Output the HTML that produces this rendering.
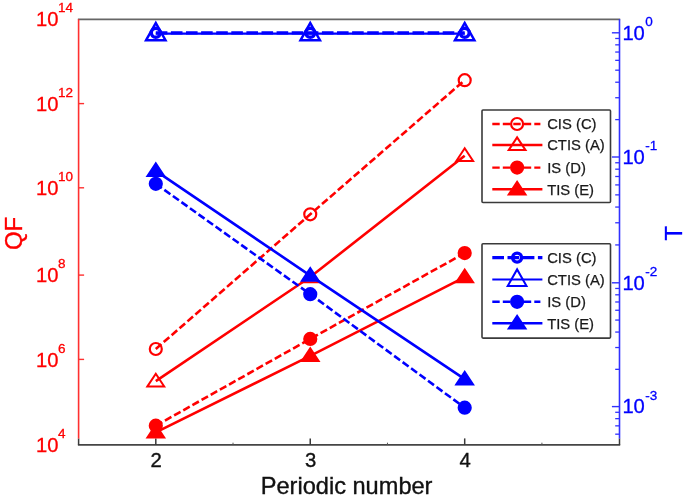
<!DOCTYPE html>
<html><head><meta charset="utf-8"><title>QF and T versus periodic number</title>
<style>html,body{margin:0;padding:0;background:#fff;}svg{display:block;filter:blur(0.5px);}</style></head>
<body>
<svg width="685" height="497" viewBox="0 0 685 497" font-family="'Liberation Sans', Arial, sans-serif">
<rect width="685" height="497" fill="#fff"/>
<line x1="77.89999999999999" y1="19.3" x2="620.2" y2="19.3" stroke="#666" stroke-width="1.8"/>
<line x1="77.89999999999999" y1="444.9" x2="620.2" y2="444.9" stroke="#454545" stroke-width="1.9"/>
<line x1="155.80" y1="444.9" x2="155.80" y2="438.4" stroke="#3a3a3a" stroke-width="1.5"/>
<text x="156.20" y="466.7" font-size="20.3" text-anchor="middle" fill="#111" stroke="#111" stroke-width="0.35">2</text>
<line x1="310.25" y1="444.9" x2="310.25" y2="438.4" stroke="#3a3a3a" stroke-width="1.5"/>
<text x="310.65" y="466.7" font-size="20.3" text-anchor="middle" fill="#111" stroke="#111" stroke-width="0.35">3</text>
<line x1="464.70" y1="444.9" x2="464.70" y2="438.4" stroke="#3a3a3a" stroke-width="1.5"/>
<text x="465.10" y="466.7" font-size="20.3" text-anchor="middle" fill="#111" stroke="#111" stroke-width="0.35">4</text>
<line x1="233.03" y1="444.9" x2="233.03" y2="442.7" stroke="#555" stroke-width="1"/>
<line x1="387.48" y1="444.9" x2="387.48" y2="442.7" stroke="#555" stroke-width="1"/>
<line x1="541.92" y1="444.9" x2="541.92" y2="442.7" stroke="#555" stroke-width="1"/>
<line x1="78.6" y1="444.9" x2="78.6" y2="438.4" stroke="#3a3a3a" stroke-width="1.5"/>
<line x1="619.5" y1="444.9" x2="619.5" y2="438.4" stroke="#3a3a3a" stroke-width="1.5"/>
<text x="346.6" y="494.2" font-size="23.6" text-anchor="middle" fill="#111" stroke="#111" stroke-width="0.35">Periodic number</text>
<line x1="78.6" y1="19.3" x2="78.6" y2="438.4" stroke="#ff3030" stroke-width="1.6"/>
<text x="36.0" y="26.30" font-size="20.2" fill="#ff0000" stroke="#ff0000" stroke-width="0.3">10<tspan font-size="13.5" dx="-0.4" dy="-13.9">14</tspan></text>
<line x1="78.6" y1="103.60" x2="84.1" y2="103.60" stroke="#ff3030" stroke-width="1.4"/>
<text x="36.0" y="110.60" font-size="20.2" fill="#ff0000" stroke="#ff0000" stroke-width="0.3">10<tspan font-size="13.5" dx="-0.4" dy="-13.9">12</tspan></text>
<line x1="78.6" y1="187.80" x2="84.1" y2="187.80" stroke="#ff3030" stroke-width="1.4"/>
<text x="36.0" y="195.00" font-size="20.2" fill="#ff0000" stroke="#ff0000" stroke-width="0.3">10<tspan font-size="13.5" dx="-0.4" dy="-13.9">10</tspan></text>
<line x1="78.6" y1="275.10" x2="84.1" y2="275.10" stroke="#ff3030" stroke-width="1.4"/>
<text x="36.0" y="282.30" font-size="20.2" fill="#ff0000" stroke="#ff0000" stroke-width="0.3">10<tspan font-size="13.5" dx="-0.4" dy="-13.9">8</tspan></text>
<line x1="78.6" y1="359.40" x2="84.1" y2="359.40" stroke="#ff3030" stroke-width="1.4"/>
<text x="36.0" y="366.50" font-size="20.2" fill="#ff0000" stroke="#ff0000" stroke-width="0.3">10<tspan font-size="13.5" dx="-0.4" dy="-13.9">6</tspan></text>
<text x="36.0" y="451.90" font-size="20.2" fill="#ff0000" stroke="#ff0000" stroke-width="0.3">10<tspan font-size="13.5" dx="-0.4" dy="-13.9">4</tspan></text>
<text transform="translate(21.8,233.4) rotate(-90)" font-size="24" text-anchor="middle" fill="#ff0000" stroke="#ff0000" stroke-width="0.35">QF</text>
<line x1="619.5" y1="19.3" x2="619.5" y2="438.4" stroke="#3030ff" stroke-width="1.6"/>
<line x1="619.5" y1="32.80" x2="611.9" y2="32.80" stroke="#3030ff" stroke-width="1.4"/>
<text x="622.4" y="39.60" font-size="20.2" fill="#0000ff" stroke="#0000ff" stroke-width="0.3">10<tspan font-size="13.5" dx="0.3" dy="-13.4">0</tspan></text>
<line x1="619.5" y1="119.61" x2="615.2" y2="119.61" stroke="#3030ff" stroke-width="1.3"/>
<line x1="619.5" y1="97.74" x2="615.2" y2="97.74" stroke="#3030ff" stroke-width="1.3"/>
<line x1="619.5" y1="82.22" x2="615.2" y2="82.22" stroke="#3030ff" stroke-width="1.3"/>
<line x1="619.5" y1="70.19" x2="615.2" y2="70.19" stroke="#3030ff" stroke-width="1.3"/>
<line x1="619.5" y1="60.35" x2="615.2" y2="60.35" stroke="#3030ff" stroke-width="1.3"/>
<line x1="619.5" y1="52.04" x2="615.2" y2="52.04" stroke="#3030ff" stroke-width="1.3"/>
<line x1="619.5" y1="44.84" x2="615.2" y2="44.84" stroke="#3030ff" stroke-width="1.3"/>
<line x1="619.5" y1="38.48" x2="615.2" y2="38.48" stroke="#3030ff" stroke-width="1.3"/>
<line x1="619.5" y1="157.00" x2="611.9" y2="157.00" stroke="#3030ff" stroke-width="1.4"/>
<text x="622.4" y="163.80" font-size="20.2" fill="#0000ff" stroke="#0000ff" stroke-width="0.3">10<tspan font-size="13.5" dx="0.3" dy="-13.4">-1</tspan></text>
<line x1="619.5" y1="244.93" x2="615.2" y2="244.93" stroke="#3030ff" stroke-width="1.3"/>
<line x1="619.5" y1="222.78" x2="615.2" y2="222.78" stroke="#3030ff" stroke-width="1.3"/>
<line x1="619.5" y1="207.06" x2="615.2" y2="207.06" stroke="#3030ff" stroke-width="1.3"/>
<line x1="619.5" y1="194.87" x2="615.2" y2="194.87" stroke="#3030ff" stroke-width="1.3"/>
<line x1="619.5" y1="184.91" x2="615.2" y2="184.91" stroke="#3030ff" stroke-width="1.3"/>
<line x1="619.5" y1="176.49" x2="615.2" y2="176.49" stroke="#3030ff" stroke-width="1.3"/>
<line x1="619.5" y1="169.19" x2="615.2" y2="169.19" stroke="#3030ff" stroke-width="1.3"/>
<line x1="619.5" y1="162.76" x2="615.2" y2="162.76" stroke="#3030ff" stroke-width="1.3"/>
<line x1="619.5" y1="282.80" x2="611.9" y2="282.80" stroke="#3030ff" stroke-width="1.4"/>
<text x="622.4" y="289.60" font-size="20.2" fill="#0000ff" stroke="#0000ff" stroke-width="0.3">10<tspan font-size="13.5" dx="0.3" dy="-13.4">-2</tspan></text>
<line x1="619.5" y1="369.33" x2="615.2" y2="369.33" stroke="#3030ff" stroke-width="1.3"/>
<line x1="619.5" y1="347.53" x2="615.2" y2="347.53" stroke="#3030ff" stroke-width="1.3"/>
<line x1="619.5" y1="332.06" x2="615.2" y2="332.06" stroke="#3030ff" stroke-width="1.3"/>
<line x1="619.5" y1="320.07" x2="615.2" y2="320.07" stroke="#3030ff" stroke-width="1.3"/>
<line x1="619.5" y1="310.26" x2="615.2" y2="310.26" stroke="#3030ff" stroke-width="1.3"/>
<line x1="619.5" y1="301.98" x2="615.2" y2="301.98" stroke="#3030ff" stroke-width="1.3"/>
<line x1="619.5" y1="294.80" x2="615.2" y2="294.80" stroke="#3030ff" stroke-width="1.3"/>
<line x1="619.5" y1="288.46" x2="615.2" y2="288.46" stroke="#3030ff" stroke-width="1.3"/>
<line x1="619.5" y1="406.60" x2="611.9" y2="406.60" stroke="#3030ff" stroke-width="1.4"/>
<text x="622.4" y="413.40" font-size="20.2" fill="#0000ff" stroke="#0000ff" stroke-width="0.3">10<tspan font-size="13.5" dx="0.3" dy="-13.4">-3</tspan></text>
<line x1="619.5" y1="434.18" x2="615.2" y2="434.18" stroke="#3030ff" stroke-width="1.3"/>
<line x1="619.5" y1="425.85" x2="615.2" y2="425.85" stroke="#3030ff" stroke-width="1.3"/>
<line x1="619.5" y1="418.65" x2="615.2" y2="418.65" stroke="#3030ff" stroke-width="1.3"/>
<line x1="619.5" y1="412.29" x2="615.2" y2="412.29" stroke="#3030ff" stroke-width="1.3"/>
<text transform="translate(681.6,233.2) rotate(-90)" font-size="24" text-anchor="middle" fill="#0000ff" stroke="#0000ff" stroke-width="0.35">T</text>
<polyline points="155.80,349.00 310.25,214.30 464.70,80.20" fill="none" stroke="#ff0000" stroke-width="2.6" stroke-dasharray="7.4 3.1"/>
<circle cx="155.80" cy="349.00" r="6.0" fill="none" stroke="#ff0000" stroke-width="2.2"/>
<circle cx="310.25" cy="214.30" r="6.0" fill="none" stroke="#ff0000" stroke-width="2.2"/>
<circle cx="464.70" cy="80.20" r="6.0" fill="none" stroke="#ff0000" stroke-width="2.2"/>
<polyline points="155.80,381.20 310.25,277.00 464.70,155.80" fill="none" stroke="#ff0000" stroke-width="2.6"/>
<polygon points="147.40,386.40 155.80,373.70 164.20,386.40" fill="none" stroke="#ff0000" stroke-width="2" stroke-linejoin="miter"/>
<polygon points="301.85,282.20 310.25,269.50 318.65,282.20" fill="none" stroke="#ff0000" stroke-width="2" stroke-linejoin="miter"/>
<polygon points="456.30,161.00 464.70,148.30 473.10,161.00" fill="none" stroke="#ff0000" stroke-width="2" stroke-linejoin="miter"/>
<polyline points="155.80,425.70 310.25,338.90 464.70,253.10" fill="none" stroke="#ff0000" stroke-width="2.6" stroke-dasharray="7.4 3.1"/>
<circle cx="155.80" cy="425.70" r="6.0" fill="#ff0000" stroke="#ff0000" stroke-width="2.2"/>
<circle cx="310.25" cy="338.90" r="6.0" fill="#ff0000" stroke="#ff0000" stroke-width="2.2"/>
<circle cx="464.70" cy="253.10" r="6.0" fill="#ff0000" stroke="#ff0000" stroke-width="2.2"/>
<polyline points="155.80,432.40 310.25,355.80 464.70,277.10" fill="none" stroke="#ff0000" stroke-width="2.6"/>
<polygon points="147.40,437.60 155.80,424.90 164.20,437.60" fill="#ff0000" stroke="#ff0000" stroke-width="2" stroke-linejoin="miter"/>
<polygon points="301.85,361.00 310.25,348.30 318.65,361.00" fill="#ff0000" stroke="#ff0000" stroke-width="2" stroke-linejoin="miter"/>
<polygon points="456.30,282.30 464.70,269.60 473.10,282.30" fill="#ff0000" stroke="#ff0000" stroke-width="2" stroke-linejoin="miter"/>
<rect x="482" y="110.0" width="128.5" height="92.5" fill="#fff" stroke="#3a3a3a" stroke-width="1.6" rx="1"/>
<line x1="492.3" y1="124.0" x2="540.4" y2="124.0" stroke="#ff0000" stroke-width="2.4" stroke-dasharray="7.4 3.1"/>
<circle cx="517.1" cy="124.0" r="6" fill="none" stroke="#ff0000" stroke-width="2.2"/>
<text x="547.2" y="129.20" font-size="14.8" fill="#1a1a1a" stroke="#1a1a1a" stroke-width="0.25">CIS (C)</text>
<line x1="492.3" y1="144.9" x2="542.4" y2="144.9" stroke="#ff0000" stroke-width="2.5"/>
<polygon points="508.70,150.10 517.10,137.40 525.50,150.10" fill="none" stroke="#ff0000" stroke-width="2" stroke-linejoin="miter"/>
<text x="547.2" y="150.10" font-size="14.8" fill="#1a1a1a" stroke="#1a1a1a" stroke-width="0.25">CTIS (A)</text>
<line x1="492.3" y1="167.6" x2="540.4" y2="167.6" stroke="#ff0000" stroke-width="2.4" stroke-dasharray="7.4 3.1"/>
<circle cx="517.1" cy="167.6" r="6" fill="#ff0000" stroke="#ff0000" stroke-width="2.2"/>
<text x="547.2" y="172.80" font-size="14.8" fill="#1a1a1a" stroke="#1a1a1a" stroke-width="0.25">IS (D)</text>
<line x1="492.3" y1="189.3" x2="542.4" y2="189.3" stroke="#ff0000" stroke-width="2.5"/>
<polygon points="508.70,194.50 517.10,181.80 525.50,194.50" fill="#ff0000" stroke="#ff0000" stroke-width="2" stroke-linejoin="miter"/>
<text x="547.2" y="194.50" font-size="14.8" fill="#1a1a1a" stroke="#1a1a1a" stroke-width="0.25">TIS (E)</text>
<polyline points="155.80,33.7 310.25,33.7 464.70,33.7" fill="none" stroke="#0000ff" stroke-width="2.2"/>
<polyline points="155.80,32.8 310.25,32.8 464.70,32.8" fill="none" stroke="#0000ff" stroke-width="3.2" stroke-dasharray="11.6 3.5"/>
<circle cx="155.80" cy="32.8" r="4.5" fill="none" stroke="#0000ff" stroke-width="3.4"/>
<polygon points="146.12,40.20 155.80,22.99 165.48,40.20" fill="none" stroke="#0000ff" stroke-width="2.5" stroke-linejoin="miter"/>
<circle cx="310.25" cy="32.8" r="4.5" fill="none" stroke="#0000ff" stroke-width="3.4"/>
<polygon points="300.57,40.20 310.25,22.99 319.93,40.20" fill="none" stroke="#0000ff" stroke-width="2.5" stroke-linejoin="miter"/>
<circle cx="464.70" cy="32.8" r="4.5" fill="none" stroke="#0000ff" stroke-width="3.4"/>
<polygon points="455.02,40.20 464.70,22.99 474.38,40.20" fill="none" stroke="#0000ff" stroke-width="2.5" stroke-linejoin="miter"/>
<polyline points="155.80,183.80 310.25,294.20 464.70,407.70" fill="none" stroke="#0000ff" stroke-width="2.6" stroke-dasharray="7.4 3.1"/>
<circle cx="155.80" cy="183.80" r="6.0" fill="#0000ff" stroke="#0000ff" stroke-width="2.2"/>
<circle cx="310.25" cy="294.20" r="6.0" fill="#0000ff" stroke="#0000ff" stroke-width="2.2"/>
<circle cx="464.70" cy="407.70" r="6.0" fill="#0000ff" stroke="#0000ff" stroke-width="2.2"/>
<polyline points="155.80,170.80 310.25,275.60 464.70,379.20" fill="none" stroke="#0000ff" stroke-width="2.6"/>
<polygon points="147.40,176.00 155.80,163.30 164.20,176.00" fill="#0000ff" stroke="#0000ff" stroke-width="2" stroke-linejoin="miter"/>
<polygon points="301.85,280.80 310.25,268.10 318.65,280.80" fill="#0000ff" stroke="#0000ff" stroke-width="2" stroke-linejoin="miter"/>
<polygon points="456.30,384.40 464.70,371.70 473.10,384.40" fill="#0000ff" stroke="#0000ff" stroke-width="2" stroke-linejoin="miter"/>
<rect x="482" y="243.7" width="128.5" height="94.4" fill="#fff" stroke="#3a3a3a" stroke-width="1.6" rx="1"/>
<line x1="492.3" y1="257.6" x2="542.4" y2="257.6" stroke="#0000ff" stroke-width="3.4" stroke-dasharray="11.7 3.5"/>
<circle cx="517.1" cy="257.6" r="4.5" fill="none" stroke="#0000ff" stroke-width="3.4"/>
<text x="547.2" y="262.80" font-size="14.8" fill="#1a1a1a" stroke="#1a1a1a" stroke-width="0.25">CIS (C)</text>
<line x1="492.3" y1="279.6" x2="542.4" y2="279.6" stroke="#0000ff" stroke-width="2.0"/>
<polygon points="507.70,286.10 517.10,269.40 526.50,286.10" fill="none" stroke="#0000ff" stroke-width="2" stroke-linejoin="miter"/>
<text x="547.2" y="284.80" font-size="14.8" fill="#1a1a1a" stroke="#1a1a1a" stroke-width="0.25">CTIS (A)</text>
<line x1="492.3" y1="301.8" x2="540.4" y2="301.8" stroke="#0000ff" stroke-width="2.4" stroke-dasharray="7.4 3.1"/>
<circle cx="517.1" cy="301.8" r="6" fill="#0000ff" stroke="#0000ff" stroke-width="2.2"/>
<text x="547.2" y="307.00" font-size="14.8" fill="#1a1a1a" stroke="#1a1a1a" stroke-width="0.25">IS (D)</text>
<line x1="492.3" y1="323.3" x2="542.4" y2="323.3" stroke="#0000ff" stroke-width="2.5"/>
<polygon points="508.70,328.50 517.10,315.80 525.50,328.50" fill="#0000ff" stroke="#0000ff" stroke-width="2" stroke-linejoin="miter"/>
<text x="547.2" y="328.50" font-size="14.8" fill="#1a1a1a" stroke="#1a1a1a" stroke-width="0.25">TIS (E)</text>
</svg>
</body></html>
